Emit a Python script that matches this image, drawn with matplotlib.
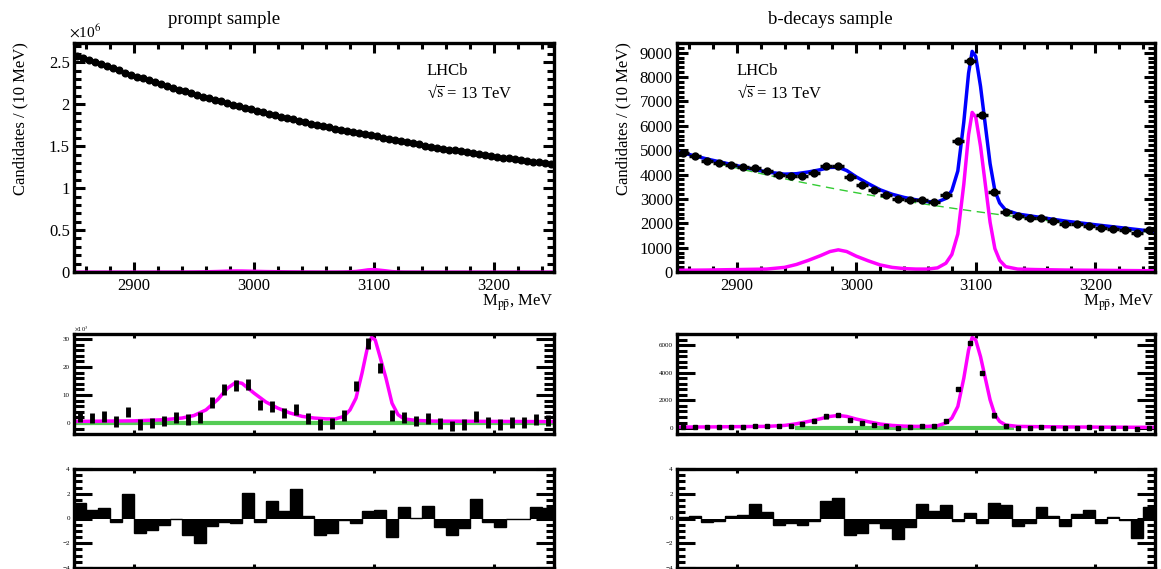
import numpy as np
import matplotlib
matplotlib.use("Agg")
import matplotlib.pyplot as plt
from matplotlib.ticker import MultipleLocator, FuncFormatter

plt.rcParams['font.family'] = ['Liberation Serif', 'DejaVu Serif']
plt.rcParams['mathtext.fontset'] = 'stix'

# ---------------- data ----------------
# prompt sample, top panel (units of 1e6 candidates), 5 MeV bins
prompt_x = np.arange(2852.5, 3250, 5.0)
prompt_y = [2.578, 2.553, 2.528, 2.503, 2.478, 2.453, 2.428, 2.403, 2.378, 2.353,
            2.329, 2.307, 2.285, 2.263, 2.241, 2.219, 2.197, 2.175, 2.153, 2.131,
            2.110, 2.091, 2.072, 2.053, 2.034, 2.015, 1.996, 1.977, 1.958, 1.939,
            1.921, 1.904, 1.887, 1.870, 1.853, 1.836, 1.819, 1.802, 1.785, 1.768,
            1.753, 1.738, 1.724, 1.709, 1.695, 1.680, 1.666, 1.657, 1.649, 1.634,
            1.620, 1.603, 1.586, 1.573, 1.560, 1.547, 1.534, 1.521, 1.508, 1.495,
            1.482, 1.471, 1.460, 1.449, 1.438, 1.427, 1.416, 1.405, 1.394, 1.383,
            1.373, 1.363, 1.354, 1.344, 1.335, 1.325, 1.316, 1.306, 1.297, 1.287]
prompt_fit_x = [2850, 2875, 2900, 2925, 2950, 2975, 3000, 3025, 3050, 3075,
                3100, 3125, 3150, 3175, 3200, 3225, 3250]
prompt_fit_y = [2.59, 2.465, 2.34, 2.23, 2.12, 2.025, 1.93, 1.845, 1.76, 1.688,
                1.615, 1.55, 1.485, 1.43, 1.375, 1.328, 1.28]

# prompt sample, background-subtracted (units of 1e3), 10 MeV bins
bins10 = np.arange(2855, 3250, 10.0)
prompt_sub = [2.2, 1.8, 2.3, 0.5, 3.9, -0.6, 0.0, 0.8, 2.1, 1.2,
              2.1, 7.4, 11.9, 13.3, 13.8, 6.5, 6.0, 3.6, 4.9, 1.7,
              -0.5, -0.2, 2.7, 13.2, 28.5, 19.6, 2.6, 2.0, 0.7, 1.7,
              -0.1, -1.1, -0.5, 2.3, 0.1, -0.5, 0.2, 0.2, 1.2, 0.9]
prompt_sub_err = 1.9
prompt_sig_x = [2850, 2900, 2925, 2940, 2950, 2960, 2970, 2978, 2985, 2990,
                3000, 3010, 3020, 3030, 3040, 3050, 3060, 3068, 3075, 3080,
                3085, 3090, 3095, 3098, 3101, 3105, 3110, 3115, 3120, 3125,
                3135, 3150, 3200, 3250]
prompt_sig_y = [0.6, 0.8, 1.2, 1.8, 2.7, 4.7, 8.5, 12.5, 14.6, 14.2,
                10.7, 7.5, 5.3, 3.6, 2.4, 1.8, 1.5, 1.5, 2.4, 4.7,
                8.9, 17.8, 27.9, 30.6, 29.7, 23.7, 16.0, 7.1, 3.0, 1.5,
                0.95, 0.7, 0.6, 0.5]

prompt_pull = [1.28, 0.69, 0.88, -0.27, 1.95, -1.2, -0.93, -0.53, -0.05, -1.33,
               -2.0, -0.59, -0.27, -0.4, 2.03, -0.27, 1.41, 0.61, 2.37, 0.21,
               -1.33, -1.15, -0.13, -0.4, 0.61, 0.67, -1.52, 0.96, 0.08, 1.01,
               -0.67, -1.33, -0.77, 1.6, -0.27, -0.72, -0.08, -0.08, 0.91, 0.88]

# b-decays sample, top panel (candidates), 10 MeV bins
bdec_y = [4870, 4760, 4570, 4470, 4390, 4300, 4250, 4140, 3980, 3940,
          3940, 4060, 4340, 4360, 3910, 3580, 3370, 3170, 3000, 2950,
          2970, 2870, 3170, 5380, 8650, 6460, 3300, 2480, 2280, 2200,
          2200, 2080, 1970, 1960, 1900, 1810, 1760, 1740, 1610, 1710]
bdec_fit_x = [2850, 2875, 2900, 2925, 2940, 2950, 2960, 2970, 2978, 2985,
              2992, 3000, 3010, 3020, 3030, 3040, 3050, 3060, 3068, 3075,
              3080, 3085, 3090, 3094, 3097, 3100, 3104, 3108, 3112, 3116,
              3120, 3125, 3135, 3150, 3175, 3200, 3225, 3250]
bdec_bkg = [4880, 4560, 4264, 3985, 3827, 3725, 3626, 3530, 3454, 3389,
            3326, 3255, 3168, 3084, 3002, 2922, 2844, 2768, 2709, 2658,
            2623, 2587, 2553, 2525, 2505, 2485, 2458, 2432, 2405, 2380,
            2354, 2323, 2261, 2171, 2010, 1870, 1740, 1610]
bdec_sig = [70, 80, 100, 120, 190, 310, 480, 670, 840, 910,
            840, 650, 460, 290, 190, 140, 120, 120, 170, 360,
            720, 1560, 3600, 5640, 6550, 6360, 5160, 3600, 2040, 960,
            480, 220, 120, 100, 80, 70, 60, 50]
bdec_tot = [4950, 4640, 4364, 4105, 4017, 4035, 4106, 4200, 4294, 4299,
            4166, 3905, 3628, 3374, 3192, 3062, 2964, 2888, 2879, 3018,
            3343, 4147, 6153, 8165, 9055, 8845, 7618, 6032, 4445, 3340,
            2834, 2543, 2381, 2271, 2090, 1940, 1800, 1660]

# b-decays sample, background-subtracted
bdec_sub = [70, 70, 70, 70, 100, 100, 170, 140, 120, 170,
            290, 500, 840, 960, 600, 340, 220, 120, 20, 70,
            140, 140, 530, 2810, 6120, 4010, 910, 170, 20, 20,
            100, 20, 0, 20, 50, 0, 0, 0, -70, -20]
bdec_sub_err = 150

bdec_pull = [0.13, 0.21, -0.29, -0.19, 0.21, 0.32, 1.2, 0.56, -0.53, -0.4,
             -0.53, -0.19, 1.39, 1.63, -1.33, -1.2, -0.37, -0.77, -1.68, -0.67,
             1.2, 0.64, 1.12, -0.24, 0.45, -0.4, 1.28, 1.07, -0.61, -0.4,
             0.96, 0.19, -0.61, 0.37, 0.69, -0.4, 0.13, -0.11, -1.57, 0.96]

pull_edges = np.arange(2850, 3251, 10.0)

# ---------------- figure ----------------
W, H = 1161, 569
fig = plt.figure(figsize=(W / 100, H / 100), dpi=100)


def ax_at(l, t, r, b):
    return fig.add_axes([l / W, 1 - b / H, (r - l) / W, (b - t) / H])


fmt = FuncFormatter(lambda v, p: ('%g' % v).replace('-', '\u2212'))


def style(ax, ymaj, ymin, ylo, yhi, ymaj_len, ymin_len, xmaj_len, xmin_len,
          ysize, xlabels=True):
    ax.set_xlim(2850, 3250)
    ax.set_ylim(ylo, yhi)
    ax.xaxis.set_major_locator(MultipleLocator(100))
    ax.xaxis.set_minor_locator(MultipleLocator(20))
    ax.yaxis.set_major_locator(MultipleLocator(ymaj))
    ax.yaxis.set_minor_locator(MultipleLocator(ymin))
    ax.yaxis.set_major_formatter(fmt)
    for s in ax.spines.values():
        s.set_linewidth(2.4)
    ax.tick_params(axis='y', which='major', direction='in', left=True, right=True,
                   length=ymaj_len, width=2.2, labelsize=ysize, pad=3)
    ax.tick_params(axis='y', which='minor', direction='in', left=True, right=True,
                   length=ymin_len, width=2.2)
    ax.tick_params(axis='x', which='major', direction='in', top=True, bottom=True,
                   length=xmaj_len, width=2.2, labelsize=12, pad=4)
    ax.tick_params(axis='x', which='minor', direction='in', top=True, bottom=True,
                   length=xmin_len, width=2.2)
    if not xlabels:
        ax.tick_params(axis='x', labelbottom=False)


xlab = r'M$_{\mathrm{p\bar{p}}}$, MeV'
sqrts = '\u221A$\\overline{\\mathrm{s}}$ = 13 TeV'

# ---- top left ----
ax1 = ax_at(74, 43, 554, 272)
ax1.plot(prompt_fit_x, prompt_fit_y, color='#33cc33', lw=1.0, ls=(0, (6, 4)))
ax1.plot(prompt_fit_x, prompt_fit_y, color='#0000ff', lw=1.2)
ax1.plot(prompt_sig_x, np.array(prompt_sig_y) / 1000.0, color='#ff00ff', lw=2.2)
ax1.errorbar(prompt_x, prompt_y, xerr=2.5, fmt='o', color='black', ms=4.8,
             elinewidth=2.5, capsize=0)
style(ax1, 0.5, 0.1, 0, 2.73, 8, 5, 7, 4, 12)
ax1.text(-0.01, 1.01, r'$\times$10$^{6}$', transform=ax1.transAxes, fontsize=11,
         ha='left', va='bottom')
ax1.text(0.735, 0.86, 'LHCb', transform=ax1.transAxes, fontsize=12)
ax1.text(0.735, 0.76, sqrts, transform=ax1.transAxes, fontsize=12)
ax1.text(1.0, -0.135, xlab, transform=ax1.transAxes, fontsize=12, ha='right', va='center')

# ---- top right ----
ax2 = ax_at(677, 43, 1155, 272)
ax2.plot(bdec_fit_x, bdec_bkg, color='#33cc33', lw=1.0, ls=(0, (6, 4)))
ax2.plot(bdec_fit_x, bdec_sig, color='#ff00ff', lw=2.5)
ax2.plot(bdec_fit_x, bdec_tot, color='#0000ff', lw=2.5)
ax2.errorbar(bins10, bdec_y, xerr=5, yerr=np.sqrt(bdec_y), fmt='o', color='black',
             ms=5, elinewidth=2.5, capsize=0)
style(ax2, 1000, 200, 0, 9400, 8, 5, 7, 4, 12)
ax2.text(0.125, 0.86, 'LHCb', transform=ax2.transAxes, fontsize=12)
ax2.text(0.125, 0.76, sqrts, transform=ax2.transAxes, fontsize=12)
ax2.text(1.0, -0.135, xlab, transform=ax2.transAxes, fontsize=12, ha='right', va='center')

# ---- middle left ----
ax3 = ax_at(74, 334, 554, 434)
ax3.plot([2850, 3250], [0, 0], color='#55cc55', lw=3)
ax3.plot(prompt_sig_x, prompt_sig_y, color='#ff00ff', lw=2.5)
ax3.errorbar(bins10, prompt_sub, yerr=prompt_sub_err, fmt='none', ecolor='black',
             elinewidth=3.5, capsize=0)
style(ax3, 10, 2, -3.9, 31.8, 13, 7, 3, 0, 5, xlabels=False)
ax3.text(0.0, 1.01, r'$\times$10$^{3}$', transform=ax3.transAxes, fontsize=4.5,
         ha='left', va='bottom')

# ---- middle right ----
ax4 = ax_at(677, 334, 1155, 434)
ax4.plot([2950, 3130], [0, 0], color='#55cc55', lw=3)
ax4.plot(bdec_fit_x, bdec_sig, color='#ff00ff', lw=2.5)
ax4.errorbar(bins10, bdec_sub, yerr=bdec_sub_err, fmt='s', color='black', ms=3,
             elinewidth=3.5, capsize=0)
style(ax4, 2000, 400, -430, 6800, 13, 7, 3, 0, 5, xlabels=False)

# ---- bottom left ----
ax5 = ax_at(74, 469, 554, 568)
ax5.stairs(prompt_pull, pull_edges, fill=True, color='black', baseline=0)
ax5.stairs(prompt_pull, pull_edges, color='black', baseline=0, lw=1)
style(ax5, 2, 0.5, -4, 4, 13, 6, 3, 0, 5, xlabels=False)

# ---- bottom right ----
ax6 = ax_at(677, 469, 1155, 568)
ax6.stairs(bdec_pull, pull_edges, fill=True, color='black', baseline=0)
ax6.stairs(bdec_pull, pull_edges, color='black', baseline=0, lw=1)
style(ax6, 2, 0.5, -4, 4, 13, 6, 3, 0, 5, xlabels=False)

# titles and y labels
fig.text(224 / W, 1 - 20 / H, 'prompt sample', fontsize=13.5, ha='center', va='center')
fig.text(830 / W, 1 - 20 / H, 'b-decays sample', fontsize=13.5, ha='center', va='center')
fig.text(20 / W, 1 - 42 / H, 'Candidates / (10 MeV)', fontsize=12, rotation=90,
         ha='center', va='top')
fig.text(623 / W, 1 - 42 / H, 'Candidates / (10 MeV)', fontsize=12, rotation=90,
         ha='center', va='top')

fig.savefig('out.png', dpi=100)
